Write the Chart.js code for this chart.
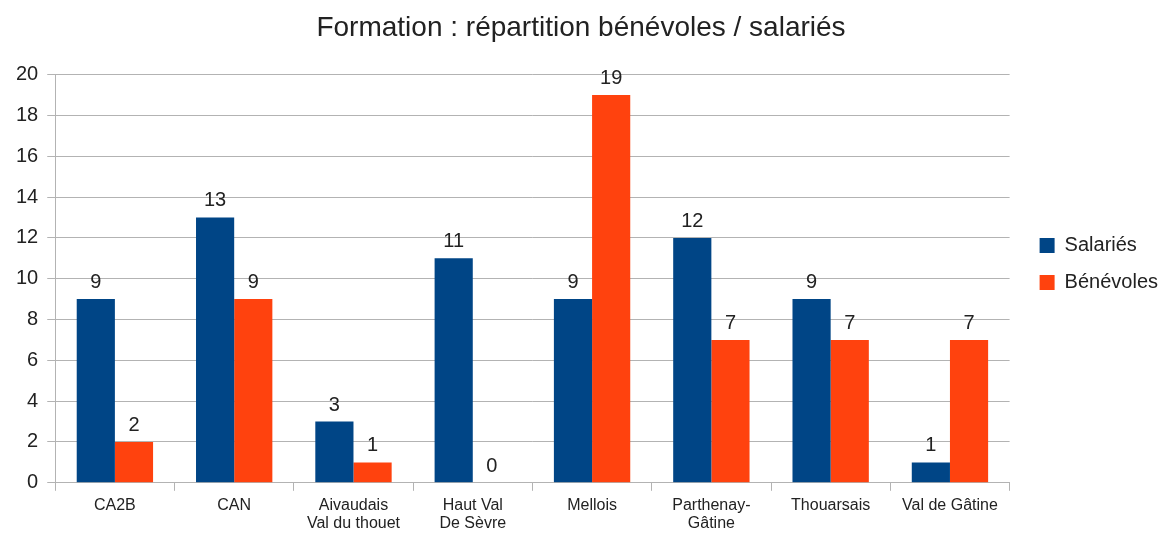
<!DOCTYPE html>
<html>
<head>
<meta charset="utf-8">
<script src="https://cdn.jsdelivr.net/npm/chart.js@4/dist/chart.umd.min.js"></script>
<style>
  html, body { margin: 0; padding: 0; background: #fff; }
  #wrap { width: 1168px; height: 538px; }
</style>
</head>
<body>
<div id="wrap"><canvas id="chart" width="1168" height="538"></canvas></div>
<script>
const categories = [
  "CA2B", "CAN", ["Aivaudais", "Val du thouet"], ["Haut Val", "De Sèvre"],
  "Mellois", ["Parthenay-", "Gâtine"], "Thouarsais", "Val de Gâtine"
];
const salaries = [9, 13, 3, 11, 9, 12, 9, 1];
const benevoles = [2, 9, 1, 0, 19, 7, 7, 7];
const yTicks = [0, 2, 4, 6, 8, 10, 12, 14, 16, 18, 20];

const FONT = "'Liberation Sans', Arial, sans-serif";

// values above bars
const valueLabels = {
  id: "valueLabels",
  afterDatasetsDraw(chart) {
    const ctx = chart.ctx;
    ctx.save();
    ctx.font = "20px " + FONT;
    ctx.fillStyle = "#222";
    ctx.textAlign = "center";
    ctx.textBaseline = "alphabetic";
    chart.data.datasets.forEach((ds, i) => {
      chart.getDatasetMeta(i).data.forEach((bar, j) => {
        ctx.fillText(ds.data[j], bar.x, bar.y - 11);
      });
    });
    ctx.restore();
  }
};

// nudge the legend right and up a little
const legendShift = {
  id: "legendShift",
  afterLayout(chart) {
    chart.legend.left += 13;
    chart.legend.right += 13;
    chart.legend.top -= 5;
    chart.legend.bottom -= 5;
  }
};

new Chart(document.getElementById("chart"), {
  type: "bar",
  data: {
    labels: categories,
    datasets: [
      { label: "Salariés", data: salaries, backgroundColor: "#004586" },
      { label: "Bénévoles", data: benevoles, backgroundColor: "#ff420e" }
    ]
  },
  options: {
    responsive: false,
    animation: false,
    layout: { padding: { left: 7, right: 13, top: 0, bottom: 0 } },
    datasets: { bar: { categoryPercentage: 0.64, barPercentage: 1 } },
    plugins: {
      title: {
        display: true,
        text: "Formation : répartition bénévoles / salariés",
        color: "#222",
        font: { family: FONT, size: 28, weight: "normal" },
        padding: { top: 11, bottom: 30 }
      },
      legend: {
        position: "right",
        labels: {
          color: "#222",
          boxWidth: 15,
          boxHeight: 15,
          padding: 17,
          font: { family: FONT, size: 20 }
        }
      },
      tooltip: { enabled: false }
    },
    scales: {
      x: {
        grid: { color: "#b3b3b3", drawOnChartArea: false, tickLength: 8 },
        border: { color: "#b3b3b3" },
        ticks: {
          color: "#222",
          maxRotation: 0,
          padding: 6,
          font: { family: FONT, size: 16, lineHeight: 1.1 }
        }
      },
      y: {
        min: 0,
        max: 20,
        afterBuildTicks(scale) { scale.ticks = yTicks.map(v => ({ value: v })); },
        grid: { color: "#b3b3b3", tickLength: 8 },
        border: { color: "#b3b3b3" },
        ticks: {
          color: "#222",
          padding: 9,
          font: { family: FONT, size: 20 }
        }
      }
    }
  },
  plugins: [valueLabels, legendShift]
});
</script>
</body>
</html>
